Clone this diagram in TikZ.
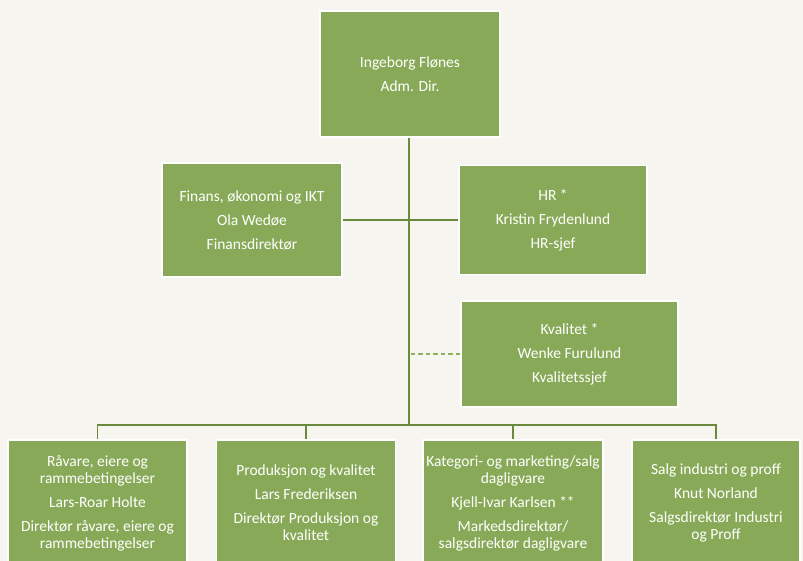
\documentclass[tikz,border=0pt]{standalone}
\usepackage{fontspec}
\setmainfont{Carlito}
\definecolor{paper}{RGB}{247,245,240}
\definecolor{boxgreen}{RGB}{136,170,88}
\definecolor{linegreen}{RGB}{106,137,60}
\definecolor{dashgreen}{RGB}{141,178,92}

\begin{document}
\begin{tikzpicture}[x=1pt,y=-1pt]
\tikzstyle{unit}=[rectangle,fill=boxgreen,draw=white,line width=1.5pt,text=white,align=center,inner sep=0pt,font=\fontsize{15.5}{17}\selectfont]
\tikzstyle{link}=[draw=linegreen,line width=1.5pt]
\useasboundingbox[fill=paper] (0,0) rectangle (803,561);
% ledelse
\node[unit,minimum width=180,minimum height=126] (D_0) at (410,74) {Ingeborg Flønes\\[7pt]Adm. Dir.};
\node[unit,minimum width=180,minimum height=114] (S_1) at (252,220) {Finans, økonomi og IKT\\[7pt]Ola Wedøe\\[7pt]Finansdirektør};
\node[unit,minimum width=188,minimum height=109] (S_2) at (553,220) {HR *\\[7pt]Kristin Frydenlund\\[7pt]HR-sjef};
\node[unit,minimum width=217,minimum height=106] (S_3) at (569.5,354) {Kvalitet *\\[7pt]Wenke Furulund\\[7pt]Kvalitetssjef};
% direktorer
\node[unit,minimum width=179,minimum height=126] (B_1) at (97.5,503) {Råvare, eiere og\\rammebetingelser\\[7pt]Lars-Roar Holte\\[7pt]Direktør råvare, eiere og\\rammebetingelser};
\node[unit,minimum width=179,minimum height=126] (B_2) at (306,503) {Produksjon og kvalitet\\[7pt]Lars Frederiksen\\[7pt]Direktør Produksjon og\\kvalitet};
\node[unit,minimum width=180,minimum height=126] (B_3) at (513,503) {Kategori- og marketing/salg\\dagligvare\\[7pt]Kjell-Ivar Karlsen **\\[7pt]Markedsdirektør/\\salgsdirektør dagligvare};
\node[unit,minimum width=168,minimum height=126] (B_4) at (716,503) {Salg industri og proff\\[7pt]Knut Norland\\[7pt]Salgsdirektør Industri\\og Proff};
\coordinate (bus) at (409,425);
\draw[link] (D_0.south -| bus) -- (bus);
\draw[link] (S_1.east) -- (S_2.west);
\draw[draw=dashgreen,line width=1.4pt,dash pattern=on 4.5pt off 3pt] (S_3.west) -- (S_3.west -| bus);
\draw[link] (B_1.north) |- (bus);
\draw[link] (B_2.north) |- (bus);
\draw[link] (B_3.north) |- (bus);
\draw[link] (B_4.north) |- (bus);
\end{tikzpicture}
\end{document}
